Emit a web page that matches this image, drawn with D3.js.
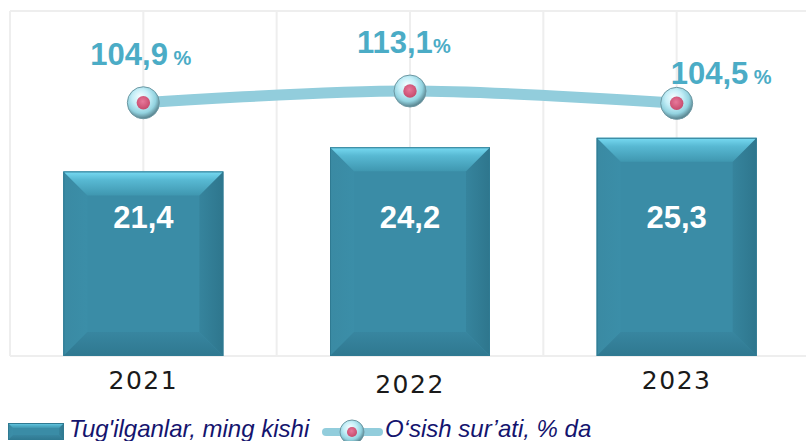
<!DOCTYPE html>
<html>
<head>
<meta charset="utf-8">
<script src="https://cdn.jsdelivr.net/npm/d3@7"></script>
<style>
  body { margin: 0; background: #fff; }
  svg { display: block; }
</style>
</head>
<body>
<div id="content"></div>
<script>
(function(){

  //////////////////////// data /////////////////////
  var years = ["2021", "2022", "2023"];
  var births = [21.4, 24.2, 25.3];          // Tug'ilganlar, ming kishi
  var birthLabels = ["21,4", "24,2", "25,3"];
  var growth = [104.9, 113.1, 104.5];       // O'sish sur'ati, % da
  var growthLabels = ["104,9", "113,1", "104,5"];
  var growthUnits = [" %", "%", " %"];
  var legendNames = ["Tug'ilganlar, ming kishi", "O\u2018sish sur\u2019ati, % da"];

  // label nudges (layout only)
  var growthDx = [-53, -53, -6],
      growthDy = [-38, -38, -19],
      yearBase = [389, 393, 389];

  var width = 806, height = 441;
  var plot = {left: 10, right: 810, top: 11, bottom: 356};

  var svg = d3.select("#content").append("svg")
      .attr("width", width)
      .attr("height", height);

  var defs = svg.append("defs");

  // bevel gradients
  var gTop = defs.append("linearGradient").attr("id", "bevTop")
      .attr("x1", 0).attr("y1", 0).attr("x2", 0).attr("y2", 1);
  gTop.append("stop").attr("offset", "0%").attr("stop-color", "#78dbf3");
  gTop.append("stop").attr("offset", "35%").attr("stop-color", "#58b9d3");
  gTop.append("stop").attr("offset", "100%").attr("stop-color", "#3f97b0");

  var gBot = defs.append("linearGradient").attr("id", "bevBot")
      .attr("x1", 0).attr("y1", 0).attr("x2", 0).attr("y2", 1);
  gBot.append("stop").attr("offset", "0%").attr("stop-color", "#3886a0");
  gBot.append("stop").attr("offset", "100%").attr("stop-color", "#2f7890");

  var gLeft = defs.append("linearGradient").attr("id", "bevLeft")
      .attr("x1", 0).attr("y1", 0).attr("x2", 1).attr("y2", 0);
  gLeft.append("stop").attr("offset", "0%").attr("stop-color", "#3a8aa3");
  gLeft.append("stop").attr("offset", "100%").attr("stop-color", "#3b8ea8");

  var gRight = defs.append("linearGradient").attr("id", "bevRight")
      .attr("x1", 0).attr("y1", 0).attr("x2", 1).attr("y2", 0);
  gRight.append("stop").attr("offset", "0%").attr("stop-color", "#36849d");
  gRight.append("stop").attr("offset", "100%").attr("stop-color", "#2e768d");

  // marker gradients
  var gBall = defs.append("radialGradient").attr("id", "ball")
      .attr("cx", "45%").attr("cy", "40%").attr("r", "60%")
      .attr("fx", "40%").attr("fy", "30%");
  gBall.append("stop").attr("offset", "0%").attr("stop-color", "#f4fdff");
  gBall.append("stop").attr("offset", "45%").attr("stop-color", "#c4eef7");
  gBall.append("stop").attr("offset", "75%").attr("stop-color", "#93d3e0");
  gBall.append("stop").attr("offset", "100%").attr("stop-color", "#557f8a");

  var gDot = defs.append("radialGradient").attr("id", "dot")
      .attr("cx", "45%").attr("cy", "40%").attr("r", "60%");
  gDot.append("stop").attr("offset", "0%").attr("stop-color", "#e7789a");
  gDot.append("stop").attr("offset", "100%").attr("stop-color", "#c64a6c");

  //////////////////////// scales /////////////////////
  var x = d3.scaleBand()
      .domain(years)
      .range([plot.left, plot.right])
      .paddingInner(0.4)
      .paddingOuter(0.2);

  var y = d3.scaleLinear()
      .domain([0, 40])
      .range([plot.bottom, plot.top]);

  var y2 = d3.scaleLinear()
      .domain([-72, 169])
      .range([plot.bottom, plot.top]);

  function cx(d) { return x(d) + x.bandwidth() / 2; }

  //////////////////////// grid /////////////////////
  var step = x.step();
  var gridX = d3.range(0, 7).map(function(i){ return plot.left + i * step / 2; });
  var grid = svg.append("g").attr("class", "grid")
      .style("stroke", "#eeeeee").style("stroke-width", 2);
  grid.selectAll("line.v")
      .data(gridX)
    .enter().append("line")
      .attr("class", "v")
      .attr("x1", function(d){ return d; }).attr("x2", function(d){ return d; })
      .attr("y1", plot.top).attr("y2", plot.bottom);
  grid.selectAll("line.h")
      .data([plot.top, plot.bottom])
    .enter().append("line")
      .attr("class", "h")
      .attr("x1", plot.left).attr("x2", width)
      .attr("y1", function(d){ return d; }).attr("y2", function(d){ return d; });

  //////////////////////// bars /////////////////////
  function bevelBar(g, bx, by, bw, bh, b) {
    b = Math.min(b, bw / 2, bh / 2);
    g.append("rect")
        .attr("x", bx).attr("y", by).attr("width", bw).attr("height", bh)
        .style("fill", "#3a8ca6");
    var pts = function(a){ return a.map(function(p){ return p.join(","); }).join(" "); };
    g.append("polygon")
        .attr("points", pts([[bx, by], [bx + b, by + b], [bx + b, by + bh - b], [bx, by + bh]]))
        .style("fill", "url(#bevLeft)");
    g.append("polygon")
        .attr("points", pts([[bx + bw, by], [bx + bw, by + bh], [bx + bw - b, by + bh - b], [bx + bw - b, by + b]]))
        .style("fill", "url(#bevRight)");
    g.append("polygon")
        .attr("points", pts([[bx, by + bh], [bx + b, by + bh - b], [bx + bw - b, by + bh - b], [bx + bw, by + bh]]))
        .style("fill", "url(#bevBot)");
    g.append("polygon")
        .attr("points", pts([[bx, by], [bx + bw, by], [bx + bw - b, by + b], [bx + b, by + b]]))
        .style("fill", "url(#bevTop)");
    g.append("rect")
        .attr("x", bx + 0.5).attr("y", by + 0.5).attr("width", bw - 1).attr("height", bh - 1)
        .style("fill", "none").style("stroke", "#2f7a92").style("stroke-width", 1);
  }

  var bars = svg.append("g").attr("class", "bars");
  births.forEach(function(v, i){
    var g = bars.append("g");
    bevelBar(g, x(years[i]), y(v), x.bandwidth(), y(0) - y(v), 24);
  });

  bars.selectAll("text.val")
      .data(births)
    .enter().append("text")
      .attr("class", "val")
      .attr("x", function(d, i){ return cx(years[i]); })
      .attr("y", 228)
      .attr("text-anchor", "middle")
      .style("font-family", "'Liberation Sans', Arial, sans-serif")
      .style("font-weight", "bold")
      .style("font-size", "31px")
      .style("fill", "#ffffff")
      .text(function(d, i){ return birthLabels[i]; });

  //////////////////////// line /////////////////////
  var linePts = growth.map(function(v, i){ return [cx(years[i]), y2(v)]; });

  svg.append("path")
      .datum(linePts)
      .attr("d", d3.line().curve(d3.curveCatmullRom.alpha(0.5)))
      .style("fill", "none")
      .style("stroke", "#92cddc")
      .style("stroke-width", 11)
      .style("stroke-linecap", "round");

  function marker(g, mx, my, r) {
    g.append("circle").attr("cx", mx).attr("cy", my).attr("r", r)
        .style("fill", "url(#ball)")
        .style("stroke", "#6d98a3").style("stroke-width", 1);
    g.append("circle").attr("cx", mx).attr("cy", my).attr("r", r * 0.42)
        .style("fill", "url(#dot)");
  }

  var marks = svg.append("g").attr("class", "markers");
  linePts.forEach(function(p){ marker(marks, p[0], p[1], 16); });

  var lbl = svg.append("g").selectAll("text")
      .data(growth)
    .enter().append("text")
      .attr("x", function(d, i){ return linePts[i][0] + growthDx[i]; })
      .attr("y", function(d, i){ return linePts[i][1] + growthDy[i]; })
      .style("font-family", "'Liberation Sans', Arial, sans-serif")
      .style("font-weight", "bold")
      .style("fill", "#4bacc6");
  lbl.append("tspan")
      .style("font-size", "31px")
      .text(function(d, i){ return growthLabels[i]; });
  lbl.append("tspan")
      .style("font-size", "20px")
      .text(function(d, i){ return growthUnits[i]; });

  //////////////////////// axis /////////////////////
  var axis = svg.append("g")
      .attr("transform", "translate(0," + plot.bottom + ")")
      .call(d3.axisBottom(x).tickSize(0));
  axis.select(".domain").remove();
  axis.selectAll("text")
      .attr("dy", 0)
      .attr("y", function(d, i){ return yearBase[i] - plot.bottom; })
      .style("font-family", "'DejaVu Sans', sans-serif")
      .style("font-size", "25px")
      .style("letter-spacing", "1.5px")
      .style("fill", "#1a1a1a");

  //////////////////////// legend /////////////////////
  var leg = svg.append("g").attr("class", "legend");
  bevelBar(leg.append("g"), 8, 423, 56, 17, 5);
  leg.append("text")
      .attr("x", 69).attr("y", 437)
      .style("font-family", "'Liberation Sans', Arial, sans-serif")
      .style("font-style", "italic")
      .style("font-size", "24px")
      .style("fill", "#14146e")
      .text(legendNames[0]);

  leg.append("line")
      .attr("x1", 326).attr("x2", 379).attr("y1", 432).attr("y2", 432)
      .style("stroke", "#92cddc").style("stroke-width", 8)
      .style("stroke-linecap", "round");
  marker(leg, 352, 432, 12);
  leg.append("text")
      .attr("x", 385).attr("y", 437)
      .style("font-family", "'Liberation Sans', Arial, sans-serif")
      .style("font-style", "italic")
      .style("font-size", "24px")
      .style("fill", "#14146e")
      .text(legendNames[1]);

})();
</script>
</body>
</html>
